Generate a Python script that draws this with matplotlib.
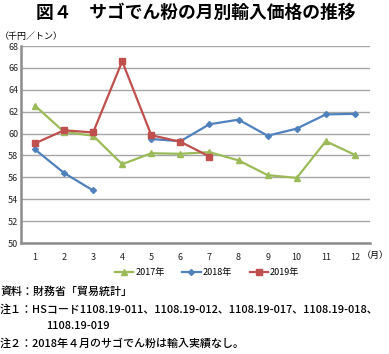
import matplotlib
matplotlib.use('Agg')

import numpy as np
import matplotlib.pyplot as plt

plt.rcParams['font.family'] = ['Noto Sans CJK JP', 'DejaVu Sans']

# データ（千円／トン）
months = np.arange(1, 13)
month_labels = [str(m) for m in months]
price_2017 = [62.55, 60.15, 59.8, 57.2, 58.2, 58.15, 58.3, 57.55, 56.2, 55.95, 59.3, 58.05]
price_2018 = [58.55, 56.4, 54.8, np.nan, 59.5, 59.3, 60.85, 61.27, 59.8, 60.45, 61.75, 61.8]
price_2019 = [59.1, 60.3, 60.1, 66.6, 59.85, 59.25, 57.9]
yticks = np.arange(50, 69, 2)

green = '#9BBB59'
blue = '#4F81BD'
red = '#C0504D'
grid_c = '#a6a6a6'

fig = plt.figure(figsize=(3.89, 3.54), dpi=100)
ax = fig.add_axes([21 / 389, 1 - 243 / 354, 349 / 389, 197 / 354])

ax.plot(months, price_2017, color=green, lw=1.6, marker='^', ms=4.5, label='2017年', zorder=3)
ax.plot(months, price_2018, color=blue, lw=1.6, marker='D', ms=3, label='2018年', zorder=3)
ax.plot(months[:len(price_2019)], price_2019, color=red, lw=1.6, marker='s', ms=4.5, label='2019年', zorder=4)

ax.set_xlim(0.52, 12.52)
ax.set_ylim(50, 68)
ax.set_yticks(yticks)
ax.set_xticks(months)
ax.set_xticklabels(month_labels)
ax.tick_params(axis='both', length=0, labelsize=6.5, colors='#222222')
ax.tick_params(axis='x', pad=7)
ax.tick_params(axis='y', pad=2)
ax.grid(axis='y', color=grid_c, lw=1.0)
ax.set_axisbelow(True)
for s in ['top', 'right']:
    ax.spines[s].set_visible(False)
for s in ['left', 'bottom']:
    ax.spines[s].set_color('#8c8c8c')
    ax.spines[s].set_linewidth(1.8)

fig.text(196 / 389, 1 - 13 / 354, '図４　サゴでん粉の月別輸入価格の推移',
         ha='center', va='center', fontsize=12.8, fontweight='bold')
fig.text(0 / 389, 1 - 37 / 354, '（千円／トン）', ha='left', va='center', fontsize=6.5)
fig.text(389 / 389, 1 - 255 / 354, '（月）', ha='right', va='center', fontsize=6.5)

fig.legend(loc='center', bbox_to_anchor=(207 / 389, 1 - 273 / 354), ncol=3, frameon=False,
           fontsize=6.5, handlelength=2.0, handletextpad=0.2, columnspacing=2.0)

notes = [
    (0, 292, '資料：財務省「貿易統計」'),
    (0, 310, '注１：HSコード1108.19-011、1108.19-012、1108.19-017、1108.19-018、'),
    (46, 326, '1108.19-019'),
    (0, 344, '注２：2018年４月のサゴでん粉は輸入実績なし。'),
]
for x, y, t in notes:
    fig.text(x / 389, 1 - y / 354, t, ha='left', va='center', fontsize=7.9, fontweight='medium')

fig.savefig('out.png', dpi=100)
